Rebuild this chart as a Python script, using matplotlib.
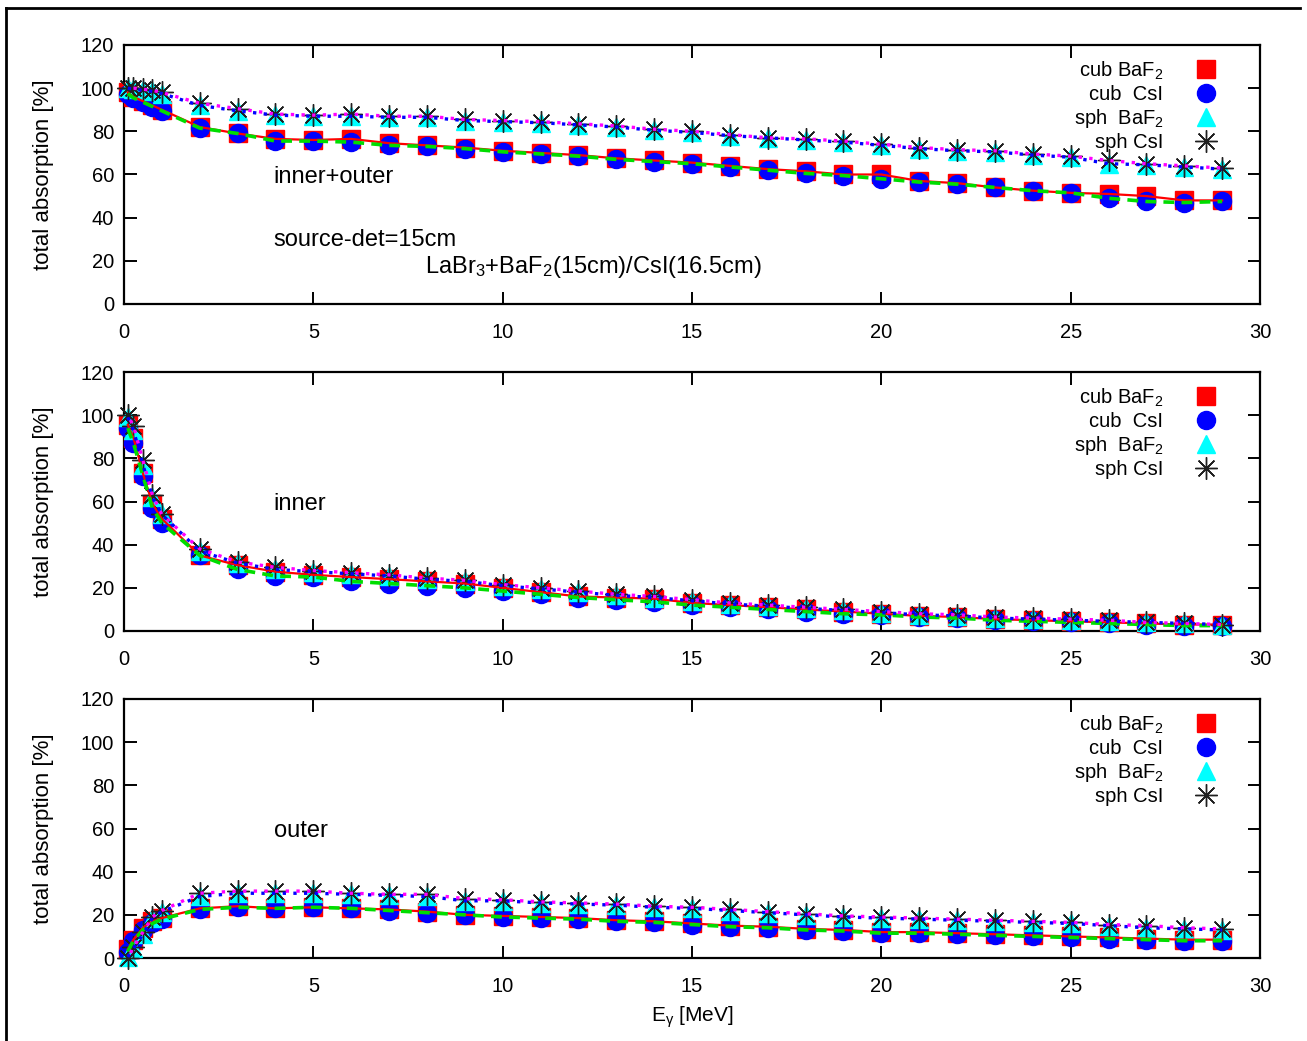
import matplotlib
matplotlib.use("Agg")
import matplotlib.pyplot as plt
from matplotlib.lines import Line2D

plt.rcParams['font.family'] = ['Liberation Sans', 'DejaVu Sans']
plt.rcParams['mathtext.fontset'] = 'custom'
plt.rcParams['mathtext.rm'] = 'Liberation Sans'
plt.rcParams['mathtext.it'] = 'Liberation Sans'
plt.rcParams['mathtext.default'] = 'regular'

# photon energies (MeV)
energy = [0.1, 0.25, 0.5, 0.75, 1.0] + list(range(2, 30))

# inner+outer
tot_cub_baf2 = [98, 96, 94, 92, 90, 82, 79, 76.5, 76, 76.5, 74.5, 73.5, 72.5, 71, 70, 69, 67.5,
                66.5, 65.5, 64, 62.5, 61.5, 60, 60, 57, 56, 54, 52.5, 51.5, 51, 50, 48, 48]
tot_cub_csi = [97.5, 95.5, 93.5, 91.5, 89.5, 81.5, 79, 75.5, 75.5, 75, 73.5, 73, 72, 70.5, 69.5,
               68.5, 67, 66, 65, 63.5, 62, 60.5, 59.5, 58, 56.5, 55.5, 54, 52.5, 51.5, 49, 47.5, 47, 47.5]
tot_sph_baf2 = [100, 99.5, 99, 98.5, 97.5, 92, 89.5, 87.5, 87, 87, 86.5, 86.5, 85, 84.5, 84, 83, 82,
                80.5, 79.5, 78, 77, 76, 75, 73.5, 72, 71, 70.5, 69, 68, 65, 64.5, 63.5, 62.5]
tot_sph_csi = [100, 100, 99.5, 99, 98, 93, 90.5, 88, 87.5, 88, 87, 87, 85.5, 85, 84.5, 83.5, 82.5,
               81, 80, 78.5, 77, 76.5, 75.5, 74, 72.5, 71.5, 71, 69.5, 68.5, 66.5, 65, 64, 63]

# inner
inn_cub_baf2 = [95.5, 89.5, 73, 59, 52, 35, 30.5, 27.5, 26, 25, 24, 23, 22, 20, 18, 16, 15.5, 15,
                13, 12, 11, 10, 9, 8, 7, 6.5, 5.5, 5, 4.5, 4, 3.5, 3, 3]
inn_cub_csi = [94, 87, 72, 57, 50, 35, 28.5, 25.5, 25, 23, 22, 21, 20, 18.5, 17, 15.5, 14.5, 13.5,
               12, 11, 10, 9, 8, 7.5, 6.5, 6, 5, 4.5, 4, 3.5, 3, 2.5, 2.5]
inn_sph_baf2 = [99, 93, 77, 62, 54, 37, 31.5, 28.5, 27.5, 26.5, 25.5, 24, 23, 21, 19.5, 18, 16.5,
                15.5, 14, 12.5, 11.5, 10.5, 9.5, 8.5, 7.5, 7, 6, 5.5, 5, 4.5, 4, 3.5, 3]
inn_sph_csi = [100, 95, 79, 63, 54, 38, 32, 29.5, 28, 27, 26, 24.5, 23.5, 21.5, 20, 18.5, 17, 16,
               14.5, 13, 12, 11, 10, 9, 8, 7.5, 6.5, 6, 5.5, 5, 4, 3.5, 3]

# outer
out_cub_baf2 = [4, 8.5, 14, 17, 18.5, 23, 24, 23, 23.5, 23, 22.5, 21.5, 20, 19.5, 19, 18.5, 17.5,
                17, 16, 15, 14.5, 13.5, 13, 12, 12, 11.5, 11, 10.5, 10, 9.5, 9, 8.5, 8.5]
out_cub_csi = [3, 8, 13, 16, 18, 22.5, 23.5, 23, 23.5, 23, 22, 21, 20, 19, 18.5, 18, 17, 16.5,
               15.5, 14.5, 14, 13, 12.5, 11.5, 11.5, 11, 10.5, 10, 9.5, 9, 8.5, 8, 8]
out_sph_baf2 = [0.5, 4.5, 11, 18.5, 21.5, 28.5, 30, 30, 30, 29.5, 29, 28.5, 26.5, 26.5, 25.5, 25,
                24.5, 23.5, 23, 22, 21, 20, 19, 18.5, 18, 17.5, 17, 16.5, 16, 15, 14, 13.5, 13]
out_sph_csi = [0, 5, 12, 19, 22, 30, 31, 31, 31, 30, 29.5, 29.5, 27.5, 27, 26, 25.5, 25, 24,
               23.5, 22.5, 21.5, 20.5, 19.5, 19, 18.5, 18, 17.5, 17, 16.5, 15.5, 15, 14, 13.5]

labels = ['cub BaF$_2$', 'cub  CsI', 'sph  BaF$_2$', 'sph CsI']
panel_text = ['inner+outer', 'inner', 'outer']
panels = [
    [tot_cub_baf2, tot_cub_csi, tot_sph_baf2, tot_sph_csi],
    [inn_cub_baf2, inn_cub_csi, inn_sph_baf2, inn_sph_csi],
    [out_cub_baf2, out_cub_csi, out_sph_baf2, out_sph_csi],
]

markers = [dict(marker='s', ms=13, color='#ff0000', mec='#ff0000'),
           dict(marker='o', ms=13, color='#0000ff', mec='#0000ff'),
           dict(marker='^', ms=13.5, color='#00ffff', mec='#00ffff'),
           dict(marker=(8, 2, 0), ms=16, color='black', mec='#202020', mew=1.0)]
lines = [dict(color='#ff0000', lw=1.6, ls='-'),
         dict(color='#00dd00', lw=2.6, ls=(0, (3, 2))),
         dict(color='#0000ff', lw=2.4, ls=(0, (1, 2.2))),
         dict(color='#ff00ff', lw=2.4, ls=(1.5, (1, 2.2)))]

W, H = 1307, 1041
fig = plt.figure(figsize=(W / 100, H / 100), dpi=100)

# page frame
fig.add_artist(Line2D([6 / W, 6 / W], [0, 1 - 8 / H], color='black', lw=2))
fig.add_artist(Line2D([6 / W, 1300 / W], [1 - 8 / H, 1 - 8 / H], color='black', lw=2))

tops = [45, 372, 699]
for k, (top, series) in enumerate(zip(tops, panels)):
    ax = fig.add_axes([124 / W, 1 - (top + 259) / H, 1136 / W, 259 / H])
    handles = []
    for y, m, lab in zip(series, markers, labels):
        h, = ax.plot(energy, y, ls='none', clip_on=False, zorder=3, label=lab, **m)
        handles.append(h)
    for y, l in zip(series, lines):
        ax.plot(energy, y, zorder=4, clip_on=False, **l)

    ax.set_xlim(0, 30)
    ax.set_ylim(0, 120)
    ax.set_xticks(range(0, 31, 5))
    ax.set_yticks(range(0, 121, 20))
    ax.tick_params(direction='in', length=9, width=1.4, top=True, right=True,
                   labelsize=14.5, pad=14)
    ax.tick_params(axis='y', pad=7)
    for s in ax.spines.values():
        s.set_linewidth(1.6)
    ax.set_ylabel('total absorption [%]', fontsize=16)
    ax.yaxis.set_label_coords(-0.062, 0.5)

    ax.legend(handles=handles, loc='upper right', bbox_to_anchor=(0.977, 0.975),
              borderaxespad=0, frameon=False, markerfirst=False, fontsize=14.5,
              handlelength=2, handletextpad=1.1, labelspacing=0.15, borderpad=0.4)

    ax.text(3.95, 59, panel_text[k], fontsize=17, va='center', ha='left')
    if k == 0:
        ax.text(3.95, 29.5, 'source-det=15cm', fontsize=17, va='center', ha='left')
        ax.text(7.95, 17, 'LaBr$_3$+BaF$_2$(15cm)/CsI(16.5cm)', fontsize=17,
                va='center', ha='left')
    if k == 2:
        ax.set_xlabel('E$_{\u03b3}$ [MeV]', fontsize=15)
        ax.xaxis.set_label_coords(0.5, -0.18)

fig.savefig('out.png', dpi=100)
